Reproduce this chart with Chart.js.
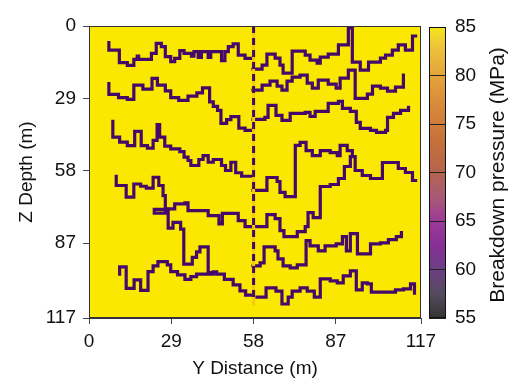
<!DOCTYPE html>
<html><head><meta charset="utf-8">
<script src="https://cdn.jsdelivr.net/npm/chart.js@4/dist/chart.umd.min.js"></script>
<style>
html,body{margin:0;padding:0;background:#fff;}
#wrap{position:relative;width:509px;height:381px;overflow:hidden;}
canvas{position:absolute;top:0;}
</style>
</head><body>
<div id="wrap">
<canvas id="main" width="509" height="381" style="left:0;width:509px;height:381px"></canvas>
<canvas id="cbar" width="89" height="381" style="left:420px;width:89px;height:381px"></canvas>
</div>
<script>
// ---------- data (Y distance m, Z depth m) ----------
const xTicks = [0, 29, 58, 87, 117];
const yTicks = [0, 29, 58, 87, 117];
const cbTicks = [55, 60, 65, 70, 75, 80, 85];
const xTitle = 'Y Distance (m)';
const yTitle = 'Z Depth (m)';
const cbTitle = 'Breakdown pressure (MPa)';
const pressureMin = 55, pressureMax = 85;

const wellY = 58;
const wellTop = 0, wellBottom = 109, wellShadowBottom = 112;

const L1 = [[7,6.7],[7,9.7],[10.7,9.7],[10.7,14.7],[13.5,14.7],[13.5,15.8],[15.8,15.8],[15.8,13.4],[17,13.4],[17,12.1],[17.5,12.1],[17.5,13.4],[22,13.4],[22,11],[23.7,11],[23.7,7],[25.5,7],[25.5,8.3],[26.9,8.3],[26.9,12.3],[28.8,12.3],[28.8,14.3],[30.2,14.3],[30.2,13],[32,13],[32,9.9],[33.5,9.9],[33.5,11],[36.1,11],[36.1,12.1],[37,12.1],[37,10.3],[38.5,10.3],[38.5,12.6],[39.6,12.6],[39.6,10.3],[42,10.3],[42,12.6],[42.9,12.6],[42.9,10.3],[46.7,10.3],[46.7,13.9],[47.9,13.9],[47.9,10.3],[49.1,10.3],[49.1,8.3],[50.8,8.3],[50.8,7.2],[52.6,7.2],[52.6,11.7],[55,11.7],[55,13],[57.5,13]];
const L2 = [[7,23.1],[7,27.4],[10.4,27.4],[10.4,28.7],[13.5,28.7],[13.5,29.4],[15.8,29.4],[15.8,23.7],[19,23.7],[19,25.3],[22.2,25.3],[22.2,21],[24.1,21],[24.1,23.7],[26.9,23.7],[26.9,26],[28.8,26],[28.8,28.7],[31.6,28.7],[31.6,29.8],[34.9,29.8],[34.9,28.1],[38,28.1],[38,26.8],[40,26.8],[40,24.8],[42.5,24.8],[42.5,30.4],[43.8,30.4],[43.8,32.2],[45.3,32.2],[45.3,33.8],[46.5,33.8],[46.5,39],[48.5,39],[48.5,37.5],[50,37.5],[50,36.3],[52.8,36.3],[52.8,40.9],[55,40.9],[55,41.8],[57.5,41.8]];
const L3 = [[8.4,38.2],[8.4,44.5],[10.8,44.5],[10.8,46.5],[13.5,46.5],[13.5,47.9],[16.1,47.9],[16.1,42.2],[18.4,42.2],[18.4,47.9],[20.6,47.9],[20.6,48.9],[22.6,48.9],[22.6,45.8],[24,45.8],[24,39.5],[24.9,39.5],[24.9,44.5],[26.7,44.5],[26.7,48.1],[28.8,48.1],[28.8,49.2],[32,49.2],[32,50.3],[33.5,50.3],[33.5,52.5],[34.9,52.5],[34.9,53.9],[35.9,53.9],[35.9,55.9],[38.7,55.9],[38.7,53.5],[40.2,53.5],[40.2,51.9],[42,51.9],[42,54.6],[43.8,54.6],[43.8,53.5],[46.7,53.5],[46.7,55.9],[48.1,55.9],[48.1,57.9],[50,57.9],[50,54.6],[51.7,54.6],[51.7,58.8],[53.8,58.8],[53.8,60.2],[57.3,60.2]];
const L4 = [[9.6,60.2],[9.6,63.9],[13.1,63.9],[13.1,68.6],[15.8,68.6],[15.8,63.3],[18.2,63.3],[18.2,64.2],[20.2,64.2],[20.2,65],[22.6,65],[22.6,60.6],[24.6,60.6],[24.6,63.9],[26.1,63.9],[26.1,68],[26.9,68],[26.9,73.3],[30.2,73.3],[30.2,71.3],[33.8,71.3],[33.8,70.9],[34.9,70.9],[34.9,74],[42,74],[42,76],[45.8,76],[45.8,79.3],[47,79.3],[47,75.1],[52.6,75.1],[52.6,78],[55,78],[55,80.4],[57.9,80.4]];
const L4b = [[26.9,73.3],[26.9,75],[23,75],[23,73.5],[27.9,73.5],[27.9,81],[29.6,81],[29.6,78.7],[32.3,78.7],[32.3,81.4],[33.4,81.4],[33.4,95.4],[36.4,95.4],[36.4,92.7],[37.9,92.7],[37.9,90.5],[39.1,90.5],[39.1,88.5],[42,88.5],[42,98.8],[43.8,98.8]];
const L5 = [[10.8,99.4],[10.8,96.5],[13.1,96.5],[13.1,105.1],[15.9,105.1],[15.9,101.7],[18.2,101.7],[18.2,105.9],[20.8,105.9],[20.8,98.4],[22.6,98.4],[22.6,96.1],[24.3,96.1],[24.3,94.4],[27.6,94.4],[27.6,95.7],[28.8,95.7],[28.8,98.4],[31.2,98.4],[31.2,99.7],[33.8,99.7],[33.8,101.5],[35.9,101.5],[35.9,100.4],[37.9,100.4],[37.9,99.4],[43.8,99.4],[43.8,98.5],[45,98.5],[45,99.4],[47.7,99.4],[47.7,101.5],[50.8,101.5],[50.8,103.7],[53.2,103.7],[53.2,106.1],[55.2,106.1],[55.2,107.8],[57.9,107.8]];
const R1 = [[57.8,17.3],[61,17.3],[61,15.7],[62.7,15.7],[62.7,11.3],[65.6,11.3],[65.6,12.9],[67.3,12.9],[67.3,15.7],[68.4,15.7],[68.4,18.9],[71.6,18.9],[71.6,10.1],[76.2,10.1],[76.2,11.7],[77.9,11.7],[77.9,13.7],[80.4,13.7],[80.4,14.9],[81.5,14.9],[81.5,12.5],[84.3,12.5],[84.3,11.3],[87.9,11.3],[87.9,7.6],[91.4,7.6],[91.4,0.8],[92.8,0.8],[92.8,14.5],[95.6,14.5],[95.6,17.7],[98.5,17.7],[98.5,14.5],[102.7,14.5],[102.7,12.9],[104.5,12.9],[104.5,11.7],[106.9,11.7],[106.9,9.7],[109,9.7],[109,7.6],[111.5,7.6],[111.5,9.7],[114,9.7],[114,4],[115.1,4]];
const R2 = [[57.8,25.7],[61,25.7],[61,23.7],[63.8,23.7],[63.8,22.1],[66.3,22.1],[66.3,24.1],[68,24.1],[68,25.7],[69.8,25.7],[69.8,22.1],[71.6,22.1],[71.6,20.5],[74.4,20.5],[74.4,19.7],[76.9,19.7],[76.9,22.9],[78.7,22.9],[78.7,24.9],[80.8,24.9],[80.8,21.7],[84.3,21.7],[84.3,23.3],[87.1,23.3],[87.1,24.9],[88.5,24.9],[88.5,20.9],[91.4,20.9],[91.4,17.7],[93.8,17.7],[93.8,29],[98.1,29],[98.1,27.3],[99.9,27.3],[99.9,24.1],[102.7,24.1],[102.7,24.9],[105.2,24.9],[105.2,26.1],[108,26.1],[108,24.5],[110.8,24.5],[110.8,19.7]];
const R3 = [[57.8,37.4],[62,37.4],[62,36.6],[63.1,36.6],[63.1,31.8],[65.9,31.8],[65.9,35.8],[68,35.8],[68,37.8],[70.9,37.8],[70.9,35],[76.2,35],[76.2,34.6],[77.9,34.6],[77.9,36.2],[79.7,36.2],[79.7,34.2],[84.3,34.2],[84.3,31],[87.9,31],[87.9,30.2],[89.3,30.2],[89.3,33],[92.1,33],[92.1,34.2],[94.2,34.2],[94.2,38.6],[95.6,38.6],[95.6,41],[99.2,41],[99.2,41.8],[101.3,41.8],[101.3,42.6],[104.5,42.6],[104.5,41.8],[105.2,41.8],[105.2,36.6],[107.3,36.6],[107.3,35],[109.8,35],[109.8,33.8],[112.6,33.8],[112.6,32.6]];
const R4 = [[57.8,65.9],[62.7,65.9],[62.7,60.7],[66.3,60.7],[66.3,62.3],[67.3,62.3],[67.3,66.7],[69.1,66.7],[69.1,68.4],[72.7,68.4],[72.7,47.8],[74.4,47.8],[74.4,46.6],[76.5,46.6],[76.5,49.9],[78.7,49.9],[78.7,51.9],[81.5,51.9],[81.5,49.9],[85,49.9],[85,50.7],[87.5,50.7],[87.5,51.9],[88.5,51.9],[88.5,47.8],[91,47.8],[91,49.9],[92.8,49.9],[92.8,52.3],[93.8,52.3],[93.8,57.9],[96.3,57.9],[96.3,59.9],[99.2,59.9],[99.2,61.1],[103.4,61.1],[103.4,54.7],[109,54.7],[109,57.1],[111.5,57.1],[111.5,58.7],[114,58.7],[114,61.9],[115.1,61.9]];
const R5 = [[57.8,80.4],[62.7,80.4],[62.7,75.6],[65.6,75.6],[65.6,77.2],[67.3,77.2],[67.3,82],[68.7,82],[68.7,84.4],[73.4,84.4],[73.4,82.4],[76.2,82.4],[76.2,80.4],[77.2,80.4],[77.2,74.8],[79,74.8],[79,76.8],[81.5,76.8],[81.5,64.3],[85,64.3],[85,63.5],[87.9,63.5],[87.9,61.1],[90,61.1],[90,56.3],[92.1,56.3],[92.1,52.3]];
const R6 = [[57.8,96.1],[60.3,96.1],[60.3,94.9],[61.7,94.9],[61.7,88.5],[65.6,88.5],[65.6,90.1],[66.6,90.1],[66.6,93.3],[68.4,93.3],[68.4,96.1],[70.9,96.1],[70.9,96.9],[73.4,96.9],[73.4,95.7],[76.5,95.7],[76.5,86],[77.9,86],[77.9,88.1],[80.8,88.1],[80.8,90.1],[83.2,90.1],[83.2,88.1],[87.1,88.1],[87.1,87.3],[89.3,87.3],[89.3,84.4],[90.7,84.4],[90.7,90.1],[92.1,90.1],[92.1,83.2],[94.6,83.2],[94.6,91.3],[99.2,91.3],[99.2,87.3],[102.7,87.3],[102.7,86.9],[105.5,86.9],[105.5,85.6],[108.3,85.6],[108.3,84.4],[110.1,84.4],[110.1,82.8]];
const R7 = [[59.2,108.6],[62.4,108.6],[62.4,104.9],[65.9,104.9],[65.9,106.2],[68,106.2],[68,111.4],[70.2,111.4],[70.2,108.6],[71.6,108.6],[71.6,106.2],[74.4,106.2],[74.4,104.9],[76.9,104.9],[76.9,106.2],[79.4,106.2],[79.4,108.6],[81.5,108.6],[81.5,101.3],[85,101.3],[85,102.1],[87.5,102.1],[87.5,102.9],[89.6,102.9],[89.6,100.1],[92.1,100.1],[92.1,98.1],[94.2,98.1],[94.2,105.7],[96.3,105.7],[96.3,102.9],[98.1,102.9],[98.1,103.3],[99.5,103.3],[99.5,106.6],[108,106.6],[108,105.7],[110.8,105.7],[110.8,105.3],[113.3,105.3],[113.3,103.3],[114.7,103.3],[114.7,107]];
const fractures = [L1, L2, L3, L4, L4b, L5, R1, R2, R3, R4, R5, R6, R7];

// ---------- colour map ----------
const cmapStops = [[55,'#333333'],[57.5,'#554a5e'],[60,'#6c3f84'],[62.5,'#872f98'],[65,'#9c3a98'],[67.5,'#a85a74'],[70,'#b4644e'],[73,'#c4703c'],[76,'#d4823a'],[80,'#e4a43a'],[83,'#eec43a'],[85,'#f5e61a']];
const YELLOW = '#fae800';
const PURPLE = '#450a69';
const FONT = "'Liberation Sans', Arial, sans-serif";
const TXT = '#111';

Chart.defaults.font.family = FONT;
Chart.defaults.color = TXT;

const pts = arr => arr.map(p => ({x: p[0], y: p[1]}));

// Chart.js paints dataset 0 last (on top)
const datasets = [
  {data: pts([[wellY, wellTop],[wellY, wellBottom]]), borderColor: PURPLE, borderWidth: 3, borderDash: [7, 5], borderCapStyle: 'butt', showLine: true, pointRadius: 0},
  {data: pts([[wellY, wellTop],[wellY, wellShadowBottom]]), borderColor: '#f3cc00', borderWidth: 3, showLine: true, pointRadius: 0},
];
fractures.forEach(f => datasets.push({
  data: pts(f), borderColor: PURPLE, borderWidth: 3.2, showLine: true, pointRadius: 0,
  tension: 0, borderCapStyle: 'square', borderJoinStyle: 'miter', fill: false
}));

const mainPlugin = {
  id: 'mainPlugin',
  beforeDatasetsDraw(chart) {
    const {ctx, chartArea: a} = chart;
    ctx.save();
    ctx.fillStyle = YELLOW;
    ctx.fillRect(a.left, a.top, a.right - a.left, a.bottom - a.top);
    ctx.restore();
  },
  afterDatasetsDraw(chart) {
    const {ctx, chartArea: a} = chart;
    ctx.save();
    ctx.strokeStyle = '#333';
    ctx.lineWidth = 1;
    ctx.strokeRect(a.left + 0.5, a.top + 0.5, a.right - a.left - 1, a.bottom - a.top - 1);
    ctx.restore();
  }
};

const tickFont = {family: FONT, size: 19};

new Chart(document.getElementById('main'), {
  type: 'scatter',
  data: {datasets},
  options: {
    responsive: false, animation: false, devicePixelRatio: 1,
    layout: {padding: {left: 0, top: 26, right: 88, bottom: 0}},
    plugins: {legend: {display: false}, tooltip: {enabled: false}},
    scales: {
      x: {
        type: 'linear', min: 0, max: 117,
        afterBuildTicks: s => { s.ticks = xTicks.map(v => ({value: v})); },
        afterFit: s => { s.height = 63; },
        grid: {display: true, drawOnChartArea: false, drawTicks: true, tickLength: 6, color: '#444'},
        border: {display: true, color: '#333'},
        ticks: {font: tickFont, color: TXT, padding: 6, maxRotation: 0, autoSkip: false},
        title: {display: true, text: xTitle, font: tickFont, color: TXT, padding: {top: 1, bottom: 1}}
      },
      y: {
        type: 'linear', min: 0, max: 117, reverse: true,
        afterBuildTicks: s => { s.ticks = yTicks.map(v => ({value: v})); },
        afterFit: s => { s.width = 89; },
        grid: {display: true, drawOnChartArea: false, drawTicks: true, tickLength: 6, color: '#444'},
        border: {display: true, color: '#333'},
        ticks: {font: tickFont, color: TXT, padding: 7, autoSkip: false},
        title: {display: true, text: yTitle, font: tickFont, color: TXT, padding: {top: 15, bottom: 15}}
      }
    }
  },
  plugins: [mainPlugin]
});

// ---------- colour bar ----------
const cbPlugin = {
  id: 'cbPlugin',
  afterDraw(chart) {
    const {ctx, chartArea: a} = chart;
    ctx.save();
    ctx.strokeStyle = '#111';
    ctx.lineWidth = 1;
    ctx.strokeRect(a.left + 0.5, a.top + 0.5, a.right - a.left - 1, a.bottom - a.top - 1);
    ctx.translate(78, 175);
    ctx.rotate(-Math.PI / 2);
    ctx.font = "21px " + FONT;
    ctx.fillStyle = TXT;
    ctx.textAlign = 'center';
    ctx.textBaseline = 'middle';
    ctx.fillText(cbTitle, 0, 0);
    ctx.restore();
  }
};

new Chart(document.getElementById('cbar'), {
  type: 'bar',
  data: {
    labels: ['p'],
    datasets: [{
      data: [[pressureMin, pressureMax]],
      barPercentage: 1, categoryPercentage: 1, borderWidth: 0,
      backgroundColor: c => {
        const area = c.chart.chartArea;
        if (!area) return '#f5e61a';
        const g = c.chart.ctx.createLinearGradient(0, area.bottom, 0, area.top);
        cmapStops.forEach(s => g.addColorStop((s[0] - pressureMin) / (pressureMax - pressureMin), s[1]));
        return g;
      }
    }]
  },
  options: {
    responsive: false, animation: false, devicePixelRatio: 1,
    layout: {padding: {left: 9, top: 27, right: 0, bottom: 63}},
    plugins: {legend: {display: false}, tooltip: {enabled: false}},
    scales: {
      x: {display: false},
      y: {
        position: 'right', min: pressureMin, max: pressureMax,
        afterBuildTicks: s => { s.ticks = cbTicks.map(v => ({value: v})); },
        afterFit: s => { s.width = 63; },
        grid: {display: true, drawOnChartArea: true, drawTicks: false, color: '#222', borderDash: [4, 9], z: 1},
        border: {display: false},
        ticks: {font: tickFont, color: TXT, padding: 9, autoSkip: false}
      }
    }
  },
  plugins: [cbPlugin]
});
</script>
</body></html>
